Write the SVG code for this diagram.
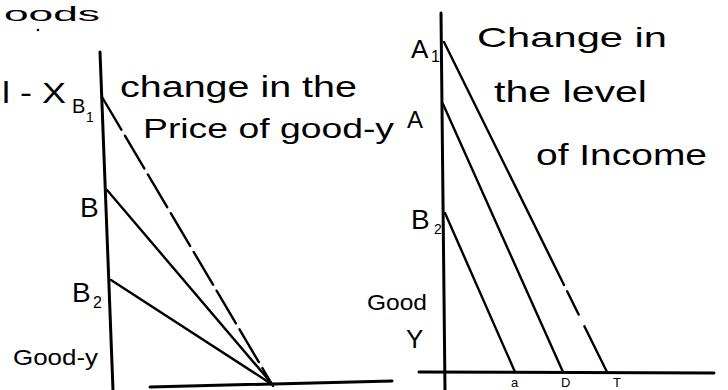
<svg xmlns="http://www.w3.org/2000/svg" width="728" height="390" viewBox="0 0 728 390">
<style>
.ax{stroke:#000;stroke-width:3;fill:none;stroke-linecap:round}
.ln{stroke:#000;stroke-width:2.4;fill:none;stroke-linecap:round}
.t{font-family:"Liberation Sans",Arial,sans-serif;fill:#000}
</style>
<rect width="728" height="390" fill="#fff"/>
<text class="t" x="4" y="21" font-size="21" textLength="96" lengthAdjust="spacingAndGlyphs">oods</text>
<circle cx="38" cy="30" r="1.3" fill="#000"/>
<g id="left-panel">
<g id="left-axes">
<line class="ax" x1="100" y1="52" x2="113" y2="390"/>
<line class="ax" x1="150" y1="387" x2="392" y2="381"/>
</g>
<g id="left-lines">
<line class="ln" x1="102" y1="97" x2="273" y2="386" stroke-dasharray="38 7"/>
<line class="ln" x1="107" y1="190" x2="273" y2="385"/>
<line class="ln" x1="111" y1="280" x2="273" y2="385"/>
</g>
<g id="left-labels">
<text class="t" x="2" y="103" font-size="30" textLength="64" lengthAdjust="spacingAndGlyphs">l - X</text>
<text class="t" x="72" y="113" font-size="20">B</text>
<text class="t" x="86" y="122" font-size="14">1</text>
<text class="t" x="120" y="97" font-size="30" textLength="237" lengthAdjust="spacingAndGlyphs">change in the</text>
<text class="t" x="143" y="138" font-size="28" textLength="251" lengthAdjust="spacingAndGlyphs">Price of good-y</text>
<text class="t" x="80" y="217" font-size="28">B</text>
<text class="t" x="72" y="302" font-size="28">B</text>
<text class="t" x="93" y="308" font-size="16">2</text>
<text class="t" x="13" y="365" font-size="22" textLength="85" lengthAdjust="spacingAndGlyphs">Good-y</text>
</g>
</g>
<g id="right-panel">
<g id="right-axes">
<line class="ax" x1="441" y1="13" x2="445" y2="390"/>
<line class="ax" x1="419" y1="372" x2="714" y2="373"/>
</g>
<g id="right-lines">
<line class="ln" x1="444" y1="42" x2="607" y2="372" stroke-dasharray="271 7 26 13 60"/>
<line class="ln" x1="443" y1="104" x2="563" y2="372"/>
<line class="ln" x1="445" y1="213" x2="515" y2="372"/>
</g>
<g id="right-labels">
<text class="t" x="411" y="58" font-size="26">A</text>
<text class="t" x="431" y="62" font-size="16">1</text>
<text class="t" x="407" y="128" font-size="24">A</text>
<text class="t" x="411" y="229" font-size="28">B</text>
<text class="t" x="434" y="234" font-size="14">2</text>
<text class="t" x="477" y="47" font-size="28" textLength="190" lengthAdjust="spacingAndGlyphs">Change in</text>
<text class="t" x="494" y="102" font-size="30" textLength="153" lengthAdjust="spacingAndGlyphs">the level</text>
<text class="t" x="536" y="165" font-size="30" textLength="171" lengthAdjust="spacingAndGlyphs">of Income</text>
<text class="t" x="367" y="310" font-size="22" textLength="60" lengthAdjust="spacingAndGlyphs">Good</text>
<text class="t" x="406" y="348" font-size="26">Y</text>
<text class="t" x="511" y="387" font-size="13">a</text>
<text class="t" x="561" y="387" font-size="13">D</text>
<text class="t" x="613" y="387" font-size="13">T</text>
</g>
</g>
</svg>
